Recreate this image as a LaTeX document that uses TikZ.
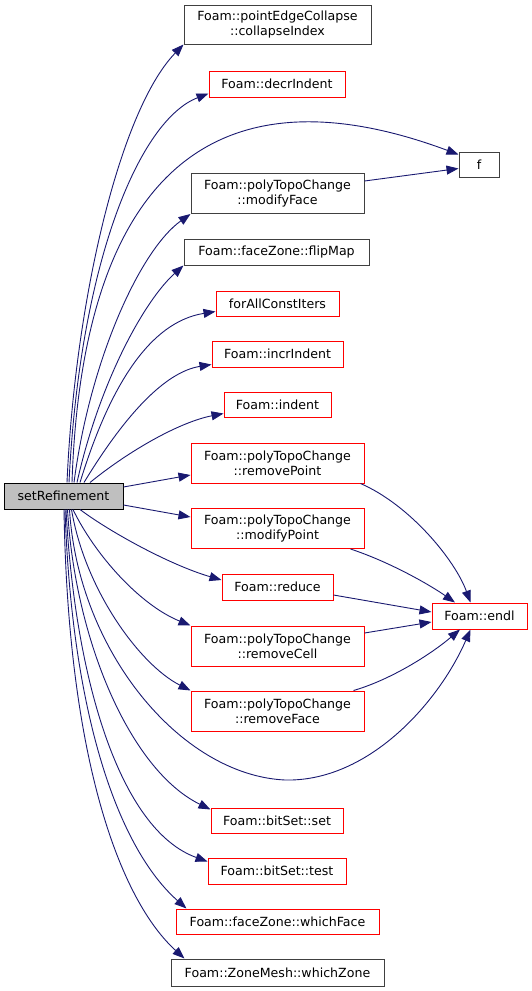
\documentclass[tikz,border=0pt]{standalone}
\usepackage{fontspec}
\setmainfont{DejaVu Sans}
\usetikzlibrary{calc,arrows.meta}
\definecolor{edgeblue}{HTML}{191970}
\definecolor{darkborder}{HTML}{404040}
\definecolor{redborder}{HTML}{FF0000}
\definecolor{rootfill}{HTML}{BFBFBF}
\tikzset{
  box/.style={draw, line width=1pt, inner sep=0pt, align=center, text=black,
    font=\fontsize{12.6}{14.7}\selectfont},
  blackbox/.style={box, draw=darkborder},
  redbox/.style={box, draw=redborder},
  rootbox/.style={box, draw=black, fill=rootfill},
  edge/.style={draw=edgeblue, line width=0.9pt,
    -{Triangle[length=12pt,width=9pt,fill=edgeblue]}},
}
\begin{document}
\begin{tikzpicture}[x=1pt,y=-1pt]
\useasboundingbox (0,0) rectangle (532,991);
% nodes
\node[rootbox, minimum width=119pt, minimum height=26pt] (sr) at (63.5,496) {setRefinement};
\node[blackbox, minimum width=187pt, minimum height=39pt] (ci) at (277.5,24.5) {Foam::pointEdgeCollapse\\::collapseIndex};
\node[redbox, minimum width=136pt, minimum height=26pt] (di) at (277,84) {Foam::decrIndent};
\node[blackbox, minimum width=40pt, minimum height=25pt] (f) at (479,164.5) {f};
\node[blackbox, minimum width=173pt, minimum height=40pt] (mf) at (277.5,193.5) {Foam::polyTopoChange\\::modifyFace};
\node[blackbox, minimum width=185pt, minimum height=26pt] (fm) at (276.5,252) {Foam::faceZone::flipMap};
\node[redbox, minimum width=123pt, minimum height=25pt] (fa) at (277.5,303.5) {forAllConstIters};
\node[redbox, minimum width=131pt, minimum height=26pt] (ii) at (277.5,354) {Foam::incrIndent};
\node[redbox, minimum width=107pt, minimum height=25pt] (in) at (277.5,404.5) {Foam::indent};
\node[redbox, minimum width=173pt, minimum height=40pt] (rp) at (277.5,463) {Foam::polyTopoChange\\::removePoint};
\node[redbox, minimum width=173pt, minimum height=40pt] (mp) at (277.5,528.5) {Foam::polyTopoChange\\::modifyPoint};
\node[redbox, minimum width=111pt, minimum height=26pt] (rd) at (277.5,587) {Foam::reduce};
\node[redbox, minimum width=173pt, minimum height=40pt] (rc) at (277.5,646) {Foam::polyTopoChange\\::removeCell};
\node[redbox, minimum width=173pt, minimum height=40pt] (rf) at (277.5,711) {Foam::polyTopoChange\\::removeFace};
\node[redbox, minimum width=95pt, minimum height=26pt] (en) at (479.5,616) {Foam::endl};
\node[redbox, minimum width=132pt, minimum height=25pt] (bs) at (277,820.5) {Foam::bitSet::set};
\node[redbox, minimum width=138pt, minimum height=26pt] (bt) at (277,871) {Foam::bitSet::test};
\node[redbox, minimum width=203pt, minimum height=25pt] (wf) at (277.5,921.5) {Foam::faceZone::whichFace};
\node[blackbox, minimum width=213pt, minimum height=27pt] (wz) at (277.5,972.5) {Foam::ZoneMesh::whichZone};
% edges from setRefinement (top)
\draw[edge] ($(sr.north)+(3.5,0)$) .. controls (75,300) and (120,110) .. (ci.south west);
\draw[edge] ($(sr.north)+(5.5,0)$) .. controls (80,260) and (140,120) .. ($(di.south west)+(0,-4)$);
\draw[edge] ($(sr.north)+(8.5,0)$) .. controls (82,180) and (210,62) .. ($(f.north west)+(0,3)$);
\draw[edge] ($(sr.north)+(10.5,0)$) .. controls (90,360) and (140,250) .. (mf.south west);
\draw[edge] ($(sr.north)+(13.5,0)$) .. controls (100,380) and (145,300) .. (fm.south west);
\draw[edge] ($(sr.north)+(16.5,0)$) .. controls (110,385) and (150,322) .. ($(fa.south west)+(0,-5)$);
\draw[edge] ($(sr.north)+(20.5,0)$) .. controls (125,415) and (165,372) .. ($(ii.south west)+(0,-3)$);
\draw[edge] ($(sr.north)+(26.5,0)$) .. controls (130,450) and (180,422) .. ($(in.south west)+(0,-4)$);
% edges from setRefinement (right)
\draw[edge] ($(sr.east)+(0,-9)$) -- ($(rp.west)+(0,12)$);
\draw[edge] ($(sr.east)+(0,9)$) -- ($(mp.west)+(0,-11.5)$);
% edges from setRefinement (bottom)
\draw[edge] ($(sr.south)+(16.5,0)$) .. controls (110,532) and (170,565) .. ($(rd.west)+(0,-7)$);
\draw[edge] ($(sr.south)+(9.5,0)$) .. controls (95,555) and (140,605) .. (rc.north west);
\draw[edge] ($(sr.south)+(8,0)$) .. controls (85,590) and (140,665) .. (rf.north west);
\draw[edge] ($(sr.south)+(6,0)$) .. controls (78,650) and (180,775) .. (285,780)
  .. controls (370,782) and (440,700) .. ($(en.south)+(-9,0)$);
\draw[edge] ($(sr.south)+(4,0)$) .. controls (75,640) and (130,770) .. ($(bs.north west)+(0,2)$);
\draw[edge] ($(sr.south)+(2.5,0)$) .. controls (75,680) and (120,830) .. ($(bt.north west)+(0,4)$);
\draw[edge] ($(sr.south)+(1.5,0)$) .. controls (72,720) and (120,850) .. ($(wf.north west)+(11,0)$);
\draw[edge] ($(sr.south)+(0.5,0)$) .. controls (68,760) and (120,900) .. ($(wz.north west)+(14,0)$);
% secondary edges
\draw[edge] ($(mf.east)+(0,-12.5)$) -- ($(f.west)+(0,4)$);
\draw[edge] ($(rp.south east)+(-4,0)$) .. controls (410,505) and (455,560) .. ($(en.north)+(-9,0)$);
\draw[edge] ($(mp.south east)+(-14,0)$) .. controls (390,562) and (430,585) .. ($(en.north)+(-24.5,0)$);
\draw[edge] ($(rd.east)+(0,8)$) -- ($(en.west)+(0,-4)$);
\draw[edge] ($(rc.east)+(0,-13)$) -- ($(en.west)+(0,6)$);
\draw[edge] ($(rf.north east)+(-11,0)$) .. controls (390,680) and (430,655) .. ($(en.south)+(-19.5,0)$);
\end{tikzpicture}
\end{document}
